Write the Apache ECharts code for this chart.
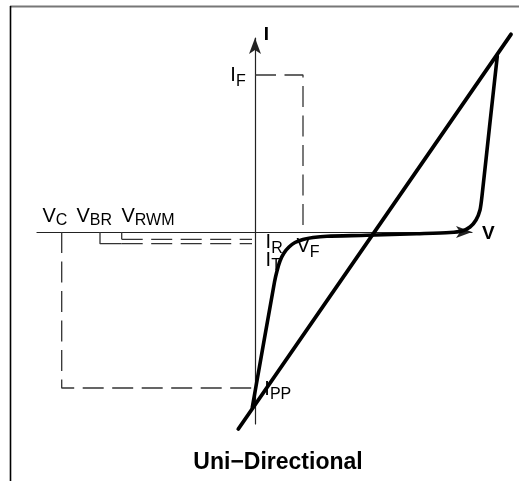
<!DOCTYPE html>
<html>
<head>
<meta charset="utf-8">
<script src="https://cdn.jsdelivr.net/npm/echarts@6/dist/echarts.min.js"></script>
<style>
  html, body { margin: 0; padding: 0; background: #fff; }
  #main { width: 519px; height: 481px; }
</style>
</head>
<body>
<div id="main"></div>
<script>
  // levels (1 unit = 10 px, origin where the axes cross)
  var VC = -19.33, VBR = -15.5, VRWM = -13.33, VF = 4.8;
  var IF = 15.7, IR = -0.73, IT = -1.17, IPP = -15.6;

  // device curve
  var curveV = [-0.27, 1.95, 2.2, 2.5, 2.9, 3.4, 4.0, 4.8, 5.8, 7.2, 11.17, 16.17, 19.5, 20.7, 21.5, 22.1, 22.5, 22.7, 23.45, 24.23];
  var curveI = [-17.53, -5.0, -3.9, -2.9, -2.1, -1.5, -1.05, -0.75, -0.55, -0.42, -0.33, -0.17, -0.05, 0.1, 0.5, 1.2, 2.2, 3.6, 10.5, 17.6];

  // straight load line
  var loadV = [-1.67, 25.6];
  var loadI = [-19.7, 19.77];

  var FONT = '"Liberation Sans", Arial, Helvetica, sans-serif';

  function pairs(xs, ys) {
    return xs.map(function (x, i) { return [x, ys[i]]; });
  }

  var guideStyle = { color: '#333', width: 1.3, type: [21, 8.5] };
  var stemStyle = { color: '#333', width: 1.3, type: 'solid' };

  function guide(data, style) {
    return {
      type: 'line', xAxisIndex: 1, yAxisIndex: 1, data: data, symbol: 'none',
      silent: true, lineStyle: style, z: 1
    };
  }

  // label text: main letter, subscript, left, cap centre, subscript drop
  var labels = [
    ['V', 'C', 42.5, 216, 5],
    ['V', 'BR', 76.5, 216, 5],
    ['V', 'RWM', 121.5, 216, 5],
    ['I', 'F', 230.3, 75, 7],
    ['I', 'R', 265.6, 242.7, 5.6],
    ['I', 'T', 265.6, 260, 5.6],
    ['V', 'F', 296.5, 246.7, 5.8],
    ['I', 'PP', 264.3, 389.7, 5]
  ];
  var mainW = { V: 13.3, I: 5.6 };

  var graphics = [
    { type: 'line', shape: { x1: 10, y1: 6.5, x2: 519, y2: 6.5 }, style: { stroke: '#777', lineWidth: 2 } },
    { type: 'line', shape: { x1: 10.5, y1: 6, x2: 10.5, y2: 481 }, style: { stroke: '#000', lineWidth: 1.6 } },
    { type: 'text', style: { text: 'I', x: 263.8, y: 35, font: 'bold 19px ' + FONT, fill: '#000', textAlign: 'left', textVerticalAlign: 'middle' } },
    { type: 'text', style: { text: 'V', x: 482, y: 233.5, font: 'bold 19px ' + FONT, fill: '#000', textAlign: 'left', textVerticalAlign: 'middle' } },
    { type: 'text', style: { text: 'Uni\u2212Directional', x: 278, y: 462.5, font: 'bold 23px ' + FONT, fill: '#000', textAlign: 'center', textVerticalAlign: 'middle' } }
  ];
  labels.forEach(function (l) {
    graphics.push({ type: 'text', z: 10, style: { text: l[0], x: l[2], y: l[3], font: '20px ' + FONT, fill: '#000', textAlign: 'left', textVerticalAlign: 'middle' } });
    graphics.push({ type: 'text', z: 10, style: { text: l[1], x: l[2] + mainW[l[0]], y: l[3] + l[4], font: '16px ' + FONT, fill: '#000', textAlign: 'left', textVerticalAlign: 'middle' } });
  });

  var hidden = {
    axisLine: { show: false }, axisTick: { show: false },
    axisLabel: { show: false }, splitLine: { show: false }
  };

  var chart = echarts.init(document.getElementById('main'));
  chart.setOption({
    animation: false,
    backgroundColor: '#fff',
    grid: [
      // axis frame
      { left: 37, right: 47, top: 38, bottom: 57 },
      // drawing area, same scale, whole canvas
      { left: 0, right: 0, top: 0, bottom: 0 }
    ],
    xAxis: [
      {
        type: 'value', gridIndex: 0, min: -21.8, max: 21.7,
        axisLine: { onZero: true, symbol: ['none', 'arrow'], symbolSize: [9, 16], lineStyle: { color: '#222', width: 1.2 } },
        axisTick: { show: false }, axisLabel: { show: false }, splitLine: { show: false }
      },
      Object.assign({ type: 'value', gridIndex: 1, min: -25.5, max: 26.4 }, hidden)
    ],
    yAxis: [
      {
        type: 'value', gridIndex: 0, min: -19.2, max: 19.4,
        axisLine: { onZero: true, symbol: ['none', 'arrow'], symbolSize: [9, 16], lineStyle: { color: '#222', width: 1.2 } },
        axisTick: { show: false }, axisLabel: { show: false }, splitLine: { show: false }
      },
      Object.assign({ type: 'value', gridIndex: 1, min: -24.9, max: 23.2 }, hidden)
    ],
    series: [
      guide([[0, IF], [VF, IF], [VF, 0]], guideStyle),
      guide([[VC, 0], [VC, IPP], [0, IPP]], guideStyle),
      guide([[VRWM, 0], [VRWM, IR]], stemStyle),
      guide([[VRWM, IR], [-0.3, IR]], guideStyle),
      guide([[VBR, 0], [VBR, IT], [VRWM, IT]], stemStyle),
      guide([[VRWM, IT], [-0.3, IT]], guideStyle),
      {
        type: 'line', xAxisIndex: 1, yAxisIndex: 1, data: pairs(loadV, loadI),
        symbol: 'none', z: 3,
        lineStyle: { color: '#000', width: 3.8, cap: 'round' }
      },
      {
        type: 'line', xAxisIndex: 1, yAxisIndex: 1, data: pairs(curveV, curveI),
        symbol: 'none', z: 3, smooth: 0.25,
        lineStyle: { color: '#000', width: 3.6, cap: 'round', join: 'round' }
      }
    ],
    graphic: graphics
  });
</script>
</body>
</html>
